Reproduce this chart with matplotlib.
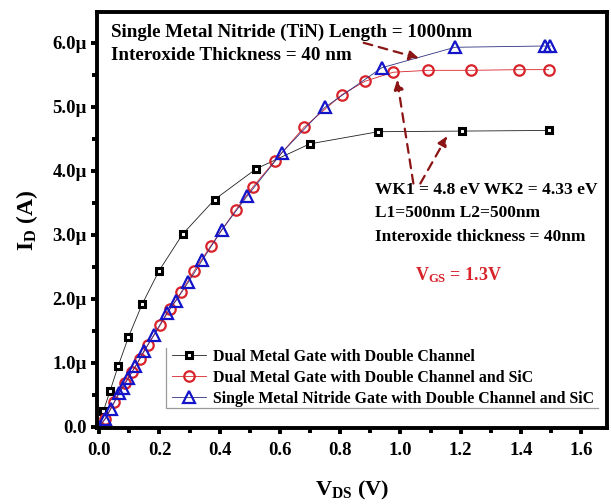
import matplotlib
matplotlib.use("Agg")
import matplotlib.pyplot as plt
from matplotlib.ticker import MultipleLocator, FuncFormatter
from matplotlib.lines import Line2D

plt.rcParams['font.family'] = 'Liberation Serif'
plt.rcParams['font.weight'] = 'bold'
plt.rcParams['mathtext.fontset'] = 'custom'
plt.rcParams['mathtext.rm'] = 'Liberation Serif:bold'
plt.rcParams['mathtext.bf'] = 'Liberation Serif:bold'
plt.rcParams['mathtext.it'] = 'Liberation Serif:bold'

# Drain current (uA) vs drain voltage (V)
x_dmg = [0, 0.014, 0.036, 0.063, 0.097, 0.142, 0.199, 0.277, 0.383, 0.521, 0.699, 0.926, 1.205, 1.494]
y_dmg = [0, 0.25, 0.56, 0.95, 1.40, 1.91, 2.44, 3.01, 3.55, 4.03, 4.42, 4.61, 4.62, 4.63]

x_sic = [0, 0.02, 0.05, 0.084, 0.109, 0.134, 0.161, 0.203, 0.235, 0.272, 0.316, 0.371,
         0.454, 0.509, 0.584, 0.680, 0.806, 0.883, 0.976, 1.092, 1.233, 1.395, 1.492]
y_sic = [0, 0.12, 0.38, 0.68, 0.86, 1.05, 1.27, 1.59, 1.84, 2.10, 2.44, 2.83,
         3.39, 3.74, 4.16, 4.68, 5.19, 5.40, 5.54, 5.57, 5.57, 5.58, 5.58]

x_tin = [0, 0.019, 0.038, 0.065, 0.078, 0.097, 0.120, 0.148, 0.181, 0.225, 0.255, 0.296,
         0.342, 0.406, 0.492, 0.606, 0.749, 0.938, 1.181, 1.479, 1.498]
y_tin = [0, 0.12, 0.28, 0.52, 0.61, 0.76, 0.94, 1.18, 1.43, 1.78, 1.97, 2.26,
         2.60, 3.07, 3.61, 4.28, 4.99, 5.61, 5.93, 5.95, 5.95]

labels = ["Dual Metal Gate with Double Channel",
          "Dual Metal Gate with Double Channel and SiC",
          "Single Metal Nitride Gate with Double Channel and SiC"]

fig = plt.figure(figsize=(6.11, 5.04), dpi=100)
ax = fig.add_axes([0.159, 0.151, 0.834, 0.825])

red = '#d8232a'
blue = '#1414c8'
darkred = '#8b1515'

ax.plot(x_dmg, y_dmg, '-', color='#202020', lw=0.6, marker='s', ms=5, mfc='white',
        mec='black', mew=2.2, label=labels[0])
ax.plot(x_sic, y_sic, '-', color=red, lw=0.6, marker='o', ms=7.5, mfc='none',
        mec=red, mew=1.6, label=labels[1])
ax.plot(x_tin, y_tin, '-', color='#303080', lw=0.6, marker='^', ms=8, mfc='none',
        mec=blue, mew=1.6, label=labels[2])

ax.set_xlim(-0.007, 1.685)
ax.set_ylim(-0.02, 6.48)
ax.xaxis.set_major_locator(MultipleLocator(0.2))
ax.xaxis.set_minor_locator(MultipleLocator(0.1))
ax.yaxis.set_major_locator(MultipleLocator(1.0))
ax.yaxis.set_minor_locator(MultipleLocator(0.5))
ax.xaxis.set_major_formatter(FuncFormatter(lambda v, p: f"{v:.1f}"))
ax.yaxis.set_major_formatter(FuncFormatter(lambda v, p: "0.0" if abs(v) < 1e-9 else f"{v:.1f}\u00b5"))

for s in ax.spines.values():
    s.set_linewidth(2.8)
ax.tick_params(which='major', length=4.5, width=2.8, labelsize=13.5, pad=3)
ax.tick_params(axis='x', which='major', pad=6)
ax.tick_params(which='minor', length=3.5, width=2.8)
for lab in ax.get_xticklabels() + ax.get_yticklabels():
    lab.set_fontweight('bold')

ax.set_xlabel(r"$\mathrm{V_{DS}}$ (V)", fontsize=16, fontweight='bold', labelpad=14)
ax.set_ylabel(r"$\mathrm{I_D}$ (A)", fontsize=17, fontweight='bold', labelpad=9)

leg = ax.legend(loc='lower left', bbox_to_anchor=(0.135, 0.035), frameon=False,
                prop={'size': 11.4, 'weight': 'bold'}, handlelength=2.1,
                handletextpad=0.45, labelspacing=0.32, borderaxespad=0)
ax.add_line(Line2D([0.136, 0.136, 0.982], [0.192, 0.048, 0.048], transform=ax.transAxes,
                   color='#9a9a9a', lw=0.9))

ax.text(0.04, 6.16, "Single Metal Nitride (TiN) Length = 1000nm", fontsize=13.7,
        fontweight='bold', va='center')
ax.text(0.04, 5.80, "Interoxide Thickness = 40 nm", fontsize=13.7, fontweight='bold', va='center')

ax.text(0.915, 3.70, "WK1 = 4.8 eV WK2 = 4.33 eV", fontsize=12.5, fontweight='bold', va='center')
ax.text(0.915, 3.34, "L1=500nm L2=500nm", fontsize=12.5, fontweight='bold', va='center')
ax.text(0.915, 2.97, "Interoxide thickness = 40nm", fontsize=12.5, fontweight='bold', va='center')
ax.text(1.048, 2.37, r"$\mathrm{V_{GS}}$ = 1.3V", fontsize=13, fontweight='bold', va='center',
        color=red)

arrow = dict(arrowstyle='-|>', linestyle=(0, (4, 3)), color=darkred, lw=1.6,
             mutation_scale=14, shrinkA=0, shrinkB=0)
ax.annotate("", xy=(1.061, 5.76), xytext=(0.878, 6.00), arrowprops=arrow)
ax.annotate("", xy=(0.989, 5.42), xytext=(1.043, 3.80), arrowprops=arrow)
ax.annotate("", xy=(1.155, 4.54), xytext=(1.066, 3.80), arrowprops=arrow)

fig.savefig("out.png", dpi=100)
